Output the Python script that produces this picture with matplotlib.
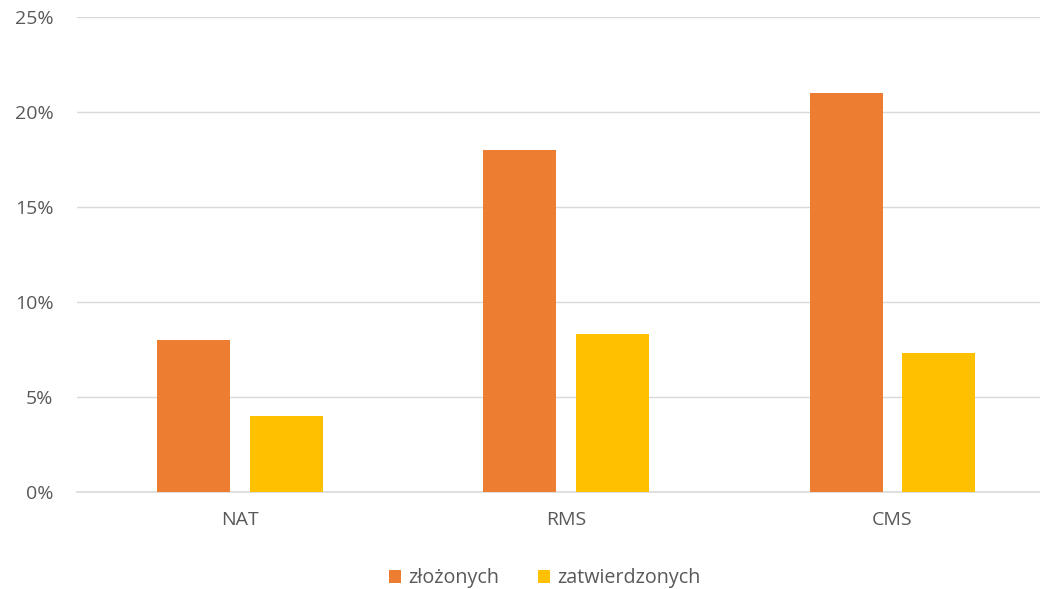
import matplotlib.pyplot as plt
import numpy as np
from matplotlib.ticker import FuncFormatter, MultipleLocator

# Data
categories = ['NAT', 'RMS', 'CMS']
zlozonych = [8.0, 18.0, 21.0]
zatwierdzonych = [4.0, 8.3, 7.3]
series_names = ['złożonych', 'zatwierdzonych']

plt.rcParams['font.family'] = ['Open Sans', 'DejaVu Sans']
text_color = '#595959'

fig = plt.figure(figsize=(10.4, 5.89), dpi=100)
ax = fig.add_axes([0.074, 0.1647, 0.941, 0.8064])

x = np.arange(len(categories))
width = 0.2236
offset = 0.1424
ax.bar(x - offset, zlozonych, width, color='#ED7D31', label=series_names[0], zorder=3)
ax.bar(x + offset, zatwierdzonych, width, color='#FFC000', label=series_names[1], zorder=3)

ax.set_xlim(-0.5, len(categories) - 0.5)
ax.set_ylim(0, 25)
ax.yaxis.set_major_locator(MultipleLocator(5))
ax.yaxis.set_major_formatter(FuncFormatter(lambda v, _: f'{v:.0f}%'))
ax.set_xticks(x)
ax.set_xticklabels(categories)

ax.grid(axis='y', color='#d9d9d9', linewidth=1.0, zorder=0)
for s in ['top', 'right', 'left']:
    ax.spines[s].set_visible(False)
ax.spines['bottom'].set_color('#d9d9d9')
ax.spines['bottom'].set_linewidth(1.2)
ax.tick_params(axis='both', length=0, labelsize=14, colors=text_color)
ax.tick_params(axis='y', pad=17)
ax.tick_params(axis='x', pad=14)

leg = fig.legend(loc='center', bbox_to_anchor=(0.524, 0.018), ncol=2, frameon=False,
                 fontsize=14.2, handlelength=0.6, handleheight=0.6, handletextpad=0.35,
                 columnspacing=2.0, labelcolor=text_color)

fig.savefig('out.png', dpi=100)
